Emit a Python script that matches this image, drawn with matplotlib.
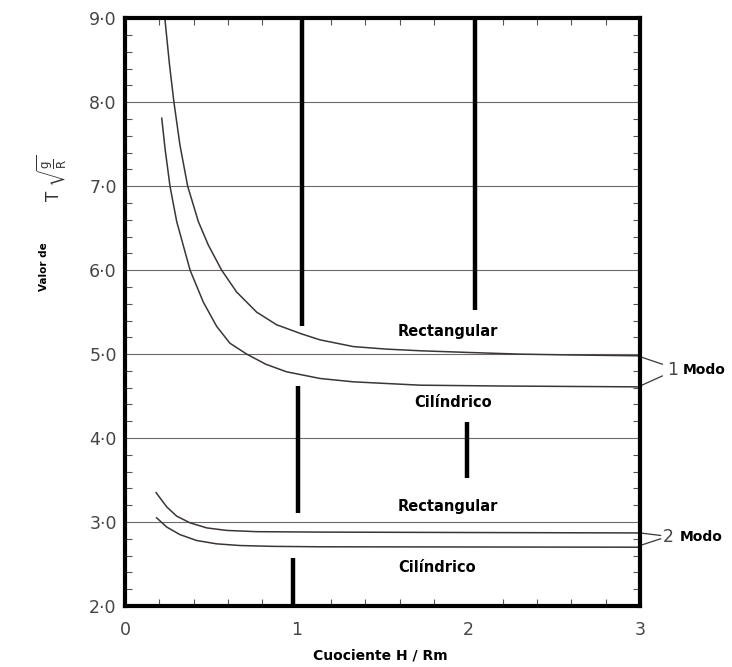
import numpy as np
import matplotlib.pyplot as plt
from matplotlib.ticker import MultipleLocator

# curvas (H/Rm, T*sqrt(g/R))
rect1_x = [0.233, 0.259, 0.285, 0.32, 0.365, 0.427, 0.485, 0.563, 0.65, 0.767, 0.883,
           1.03, 1.136, 1.33, 1.52, 1.72, 2.0, 2.3, 2.6, 3.0]
rect1_y = [8.98, 8.45, 8.0, 7.49, 7.0, 6.58, 6.30, 6.0, 5.74, 5.50, 5.35,
           5.24, 5.17, 5.09, 5.06, 5.04, 5.02, 5.0, 4.99, 4.98]
cil1_x = [0.214, 0.233, 0.262, 0.301, 0.379, 0.456, 0.534, 0.611, 0.709, 0.82, 0.94,
          1.136, 1.33, 1.72, 2.2, 3.0]
cil1_y = [7.81, 7.45, 7.0, 6.58, 6.0, 5.62, 5.33, 5.13, 5.0, 4.88, 4.79,
          4.71, 4.67, 4.63, 4.62, 4.61]
rect2_x = [0.181, 0.243, 0.301, 0.379, 0.476, 0.592, 0.767, 1.136, 2.0, 3.0]
rect2_y = [3.35, 3.18, 3.07, 2.99, 2.93, 2.90, 2.885, 2.88, 2.875, 2.87]
cil2_x = [0.184, 0.243, 0.32, 0.417, 0.534, 0.67, 0.864, 1.136, 3.0]
cil2_y = [3.05, 2.94, 2.85, 2.78, 2.74, 2.72, 2.71, 2.705, 2.70]

# trazos gruesos verticales (escaneo)
seg_x = [1.03, 1.01, 0.98, 2.04, 1.99]
seg_y0 = [5.34, 3.11, 2.0, 5.52, 3.52]
seg_y1 = [9.0, 4.62, 2.57, 9.0, 4.19]

xticks = [0, 1, 2, 3]
yticks = [2, 3, 4, 5, 6, 7, 8, 9]

curve_col = '#3d3535'
grid_col = '#6f6868'
tick_col = '#454545'

fig = plt.figure(figsize=(7.32, 6.67), dpi=100)
ax = fig.add_axes([0.1708, 0.0915, 0.7035, 0.881])

for yv in yticks[1:-1]:
    ax.axhline(yv, color=grid_col, lw=0.8, zorder=1)

for xs, ys in [(rect1_x, rect1_y), (cil1_x, cil1_y), (rect2_x, rect2_y), (cil2_x, cil2_y)]:
    ax.plot(xs, ys, color=curve_col, lw=1.1, zorder=2, solid_joinstyle='round')

ax.vlines(seg_x, seg_y0, seg_y1, color='black', lw=3.2, zorder=3)

ax.set_xlim(0, 3)
ax.set_ylim(2, 9)
ax.set_xticks(xticks)
ax.set_xticklabels([str(v) for v in xticks])
ax.set_yticks(yticks)
ax.set_yticklabels(['%d\u00b70' % v for v in yticks])
ax.xaxis.set_minor_locator(MultipleLocator(0.2))
ax.yaxis.set_minor_locator(MultipleLocator(0.2))
ax.tick_params(which='both', direction='in', top=True, right=True, color='#555555', width=0.8)
ax.tick_params(which='major', length=0)
ax.tick_params(which='minor', length=5)
ax.tick_params(axis='y', which='major', pad=6, labelsize=12.5, labelcolor=tick_col)
ax.tick_params(axis='x', which='major', pad=11, labelsize=12.5, labelcolor=tick_col)
for sp in ax.spines.values():
    sp.set_linewidth(3)
    sp.set_zorder(4)

# etiquetas de las curvas
bold = dict(fontsize=10.5, fontweight='bold', ha='center', va='center')
ax.text(1.88, 5.27, 'Rectangular', **bold)
ax.text(1.91, 4.42, 'Cilíndrico', **bold)
ax.text(1.88, 3.19, 'Rectangular', **bold)
ax.text(1.82, 2.46, 'Cilíndrico', **bold)

# llaves de modo fuera del eje
ax.plot([3.0, 3.13], [4.97, 4.88], color=curve_col, lw=0.9, clip_on=False)
ax.plot([3.0, 3.13], [4.62, 4.74], color=curve_col, lw=0.9, clip_on=False)
ax.text(3.16, 4.81, '1', fontsize=12.5, color=tick_col, va='center')
ax.text(3.25, 4.81, 'Modo', fontsize=10, fontweight='bold', va='center')
ax.plot([3.0, 3.12], [2.87, 2.84], color=curve_col, lw=0.9, clip_on=False)
ax.plot([3.0, 3.12], [2.72, 2.80], color=curve_col, lw=0.9, clip_on=False)
ax.text(3.13, 2.82, '2', fontsize=12.5, color=tick_col, va='center')
ax.text(3.23, 2.82, 'Modo', fontsize=10, fontweight='bold', va='center')

ax.text(0.495, -0.085, 'Cuociente H / Rm', transform=ax.transAxes, fontsize=10,
        fontweight='bold', ha='center', va='center')
fig.text(0.0601, 0.601, 'Valor de', rotation=90, fontsize=7.5, fontweight='bold',
         ha='center', va='center')
fig.text(0.071, 0.733, r'$\mathrm{T}\ \sqrt{\frac{\mathrm{g}}{\mathrm{R}}}$', rotation=90,
         fontsize=12, ha='center', va='center', color='#333333')

fig.savefig('out.png', dpi=100)
